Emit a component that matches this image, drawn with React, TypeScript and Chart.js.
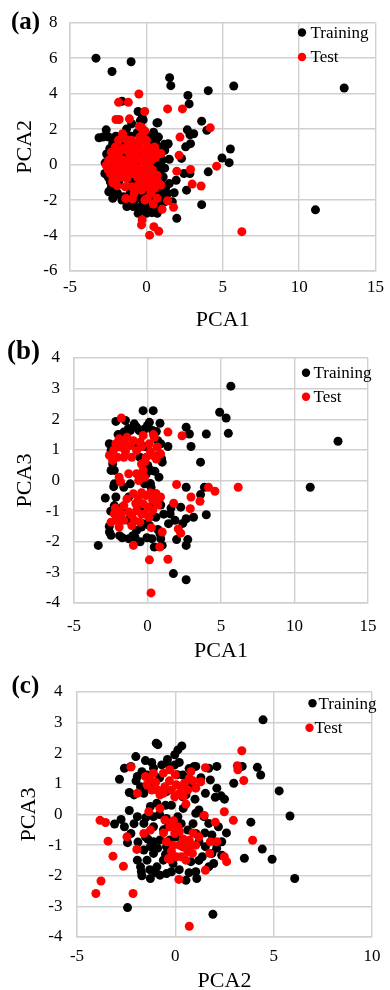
import React, { useEffect, useRef } from 'react';
import { Chart, registerables } from 'chart.js';

Chart.register(...registerables);

// ---------- Panel (a): PCA1 vs PCA2 ----------
const aTrainX = [-3.3, -2.25, -1.0, 1.52, 1.6, 2.72, 2.8, 4.05, 5.72, 12.95, 11.07, 3.62, 3.96, 2.68, 3.1, 2.85, 2.57, 2.89, 5.5, 4.95, 5.42, 4.05, 2.46, 2.85, 1.82, 2.63, 1.95, 3.62, 1.99, 0.75, 1.39, -0.54, -0.96, -0.21, -3.1, -2.63, -2.46, -2.85, -1.6, -0.39, 0.69, 0.47, 0.79, 1.43, -1.3, -0.28, -2.46, -2.14, -1.28, -0.32, 0.0, 0.36, 0.71, 1.03, 1.18, 1.28, 1.5, 0.96, 0.92, 0.54, 0.75, 0.32, 1.18, -2.46, -2.72, -2.36, -2.08, -1.82, -1.5, -1.07, -0.75, -0.54, -0.11, 0.21, 0.43, 0.64, 0.75, 0.32, -0.54, -0.86, -0.96, -1.39, -0.54, -0.11, 0.32, 0.54, -0.54, -0.96, -1.28, -1.82, -2.03, -1.6, -1.28, -0.54, 0.11, 0.43, 0.54, 0.86, 0.86, 1.07, 1.39, -2.2, -2.0, -0.2, 0.1, 2.3, 0.3, -0.2, 1.0, -0.3, 0.55, -1.1, -2.6, -2.7, -2.5, -2.3, -1.9, -1.6, -1.2, -0.9, -0.4, 0.2, 0.5, 0.9, 1.2, 1.0, 0.8, 1.1, 1.2, 1.0, 0.6, 0.2, 1.2, 0.6, 0.1, -0.6, -1.0, -1.6, -2.0, -2.2, -2.4, 0.4, -0.2, -0.7, 0.7, 1.5, 1.7];
const aTrainY = [6.0, 5.25, 5.8, 4.9, 4.45, 3.9, 3.42, 4.17, 4.43, 4.32, -2.55, 2.45, 1.93, 1.96, 1.74, 1.68, 1.0, 1.18, 0.88, 0.37, 0.11, -0.41, -0.5, -0.5, -1.59, -1.44, -0.88, -2.26, -3.03, 2.36, 1.14, 2.99, 2.3, 2.52, 1.51, 1.96, 1.55, 1.55, 3.57, 2.48, 2.35, 1.83, 1.55, 1.18, 2.0, 2.63, -1.53, -1.81, -2.37, -2.47, -2.75, -2.71, -2.75, -2.19, -1.81, -1.25, -1.07, -0.88, -0.04, 0.52, 0.99, 1.55, 1.14, -0.13, -0.5, -0.97, -1.25, -0.97, -1.81, -1.63, -2.0, -1.63, -1.25, -1.53, -1.81, -2.0, -2.28, -2.37, -2.75, -2.37, 0.8, 0.43, 0.24, -0.13, -0.5, -0.88, -0.69, -0.88, -0.41, -0.5, 0.43, 1.18, 1.55, 0.99, 1.18, 0.71, -0.13, 0.43, -0.5, -1.34, -1.63, -1.9, -1.7, -2.2, -2.0, 0.35, 1.0, 0.7, 0.2, -1.9, -1.6, -2.0, 0.6, 0.1, -0.7, -1.3, -1.6, -2.0, -1.9, -1.5, -2.4, -2.5, -2.5, -2.4, -2.1, -1.6, -1.2, -0.7, -0.2, 0.3, 0.1, 0.2, 0.8, 1.3, 1.6, 1.8, 1.6, 1.5, 1.6, 1.2, 0.9, -1.1, -1.6, -1.0, -0.4, 0.3, -2.1];
const aTestX = [-0.49, -1.82, -1.18, -0.11, 1.39, 2.36, -1.99, -1.78, -1.11, 4.18, 2.2, 2.14, 4.6, 2.89, 1.99, 3.0, 3.58, 1.39, 1.78, 1.03, 0.45, -0.28, -0.32, 0.21, 0.49, 0.81, 6.25, -2.2, -1.35, -0.92, 0.06, -2.46, -2.63, -2.25, -2.14, -2.36, -1.92, -2.03, -1.82, -1.5, -1.28, -1.07, -0.75, -0.54, -0.43, -0.32, -0.21, -0.64, -0.86, -0.43, -0.32, -0.11, 0.0, 0.21, 0.43, 0.75, 0.96, 0.54, 0.0, -0.32, -0.54, -0.96, -1.39, 0.11, 0.32, 0.21, -0.11, 0.96, 0.21, -0.96, -1.28, -1.82, -1.56, -0.96, 0.0, 0.54, -2.03, -1.7, -0.6, -0.2, 0.6, -1.2, -0.4, -2.3, -1.0, 0.3, -0.1, -0.45, -2.5, -2.1, -1.6, -1.3, -1.4, -1.7, -2.1, -1.1, -0.7, -0.6, -0.2, 0.1, 0.4, 0.7, 0.2, -0.3, -0.8, -1.6, -1.9, -0.4, 0.1, -0.3, -1.3, -2.2, -1.9, -0.8, 0.3, 0.7, -0.1, 0.7];
const aTestY = [3.98, 3.51, 3.51, 2.99, 3.14, 3.14, 2.54, 2.54, 2.58, 2.07, 1.55, 0.52, -0.09, -0.28, -0.37, -1.1, -1.21, -2.04, -2.41, -2.52, -2.22, -3.12, -3.4, -3.98, -3.5, -3.76, -3.78, -1.03, -1.91, -1.93, -1.91, 0.24, -0.04, 0.43, -0.13, -0.5, -0.32, 0.99, 0.62, 0.24, 0.8, 0.43, 0.62, 0.99, 1.55, 2.11, 1.83, 1.18, -0.04, -0.5, -0.88, -0.97, -0.5, -0.88, -1.07, -0.97, -1.16, -1.34, -1.25, -1.44, -1.16, -1.25, -1.25, 0.43, 0.24, 0.8, 0.62, 0.62, -0.13, -0.5, -0.79, 1.37, 1.74, 1.37, 1.37, 0.99, -0.88, 0.0, 0.3, 0.1, 0.4, 1.1, -0.2, 0.7, 0.1, -0.6, 1.9, 2.15, -0.3, 0.2, -0.3, 0.0, -0.6, -0.7, -0.6, -0.2, -0.3, -0.7, -0.3, -0.7, -0.3, -0.6, 0.5, 0.4, 0.9, 0.9, 0.4, 0.9, 1.0, 1.3, 1.4, -0.9, -1.2, -1.6, -1.6, -1.9, -2.0, 0.7];

// ---------- Panel (b): PCA1 vs PCA3 ----------
const bTrainX = [5.67, 4.91, 5.35, 5.5, 12.96, 11.07, 4.0, 3.61, 2.63, 2.85, 2.96, 1.39, 2.63, 3.87, 3.61, 4.0, 2.26, 3.13, 2.63, 1.54, 1.43, 1.87, 1.98, 2.74, 2.63, 1.76, 2.63, -3.35, -2.87, -2.59, -2.48, -1.72, -1.28, -0.04, 0.46, 1.0, 0.85, -0.3, 0.39, 0.13, 0.85, -1.5, -2.15, -1.61, -1.17, -0.57, 0.96, 0.24, 0.78, -2.26, -2.48, 0.24, 0.57, -0.41, -0.85, -2.48, -2.37, -2.26, -1.72, -0.74, -0.2, 0.35, -0.52, 0.02, -0.2, -1.17, -1.61, -1.28, -1.72, -2.15, -2.26, 0.13, -0.3, -0.74, 0.13, 0.57, 0.6, -1.9, -0.9, -0.1, 0.7, -2.0, -1.3, -0.5, 0.4, -2.6, -2.0, -1.3, -0.9, 0.0, 0.6, 0.9, 1.0, 0.5, -0.1, -0.6, 0.2, -2.3, -2.5, -1.9, -1.0, -0.5, 0.3, 0.7, 1.1, 0.9, -2.6, 1.6, 2.4, 0.9];
const bTrainY = [3.08, 2.23, 2.04, 1.54, 1.28, -0.22, 1.52, 0.6, 1.74, 1.52, 1.11, 1.11, -0.22, -0.22, -0.46, -1.12, -0.87, -1.2, -1.25, -1.09, -1.41, -1.3, -1.93, -1.93, -2.12, -3.04, -3.24, -2.12, -0.57, -1.68, -1.79, -1.87, -1.9, -1.87, -2.17, -2.12, -1.74, 2.28, 2.28, 1.9, 1.87, 1.96, 1.93, 1.58, 1.63, 1.63, 0.71, 0.33, 0.11, -0.11, 0.33, -0.22, -0.43, -1.52, -1.85, 0.98, 0.54, 0.33, 1.52, 1.74, 1.68, 1.63, 0.76, 0.49, -0.11, -0.11, -0.22, -0.54, -0.87, -0.54, -0.82, -1.2, -1.41, -1.63, -1.47, -1.2, 0.8, 1.2, 1.2, 1.1, 1.3, -1.3, -1.3, -0.9, -0.7, 1.2, 1.5, 1.7, 1.85, 1.8, 1.6, 1.2, 0.6, 0.3, 0.2, 0.2, -0.1, -0.2, -1.0, -1.8, -1.8, -2.0, -1.9, -1.6, -1.1, -0.8, -1.5, -0.9, -1.4, -1.9];
const bTestX = [-1.78, 1.39, 2.35, 6.17, 4.15, 4.59, 1.98, 2.96, 3.57, 1.78, 2.91, 2.09, 2.26, 1.0, 0.26, -0.96, 0.83, 0.13, 1.39, 0.24, -2.59, -2.37, -2.15, -1.83, -1.93, -1.39, -1.17, -0.74, -0.96, -0.3, 0.13, 0.46, 0.67, 0.89, 0.35, -0.09, -0.41, -0.3, -0.74, -1.28, -1.07, -1.61, -2.04, -1.93, -1.83, -2.26, -2.15, -2.48, -1.93, -1.61, -1.28, -1.07, -0.74, -0.96, -0.63, -0.3, -0.09, 0.02, 0.35, 0.57, 0.89, 0.35, -0.2, -0.52, -1.07, -1.61, -0.4, 0.4, -2.3, -1.6, -1.5, -0.5, 0.2, 0.6, -0.2, -2.2, -1.8, -1.4, -0.8, -0.4, 0.2, 0.7, 0.1, -0.4, -0.9, -2.0, -0.6, -0.2];
const bTestY = [2.04, 1.58, 1.46, -0.22, -0.22, -0.35, -0.13, -0.54, -0.68, -0.74, -0.92, -1.58, -1.72, -1.68, -1.54, -2.12, -2.17, -2.59, -2.57, -3.67, 0.82, 0.65, 1.2, 1.09, 1.36, 1.41, 1.14, 0.98, 1.3, 1.47, 1.2, 1.41, 1.09, 0.87, 0.82, 0.76, 0.54, 0.33, 0.22, 0.22, 0.76, 0.76, 0.76, 0.11, -0.05, -1.09, -1.3, -1.36, -1.52, -0.82, -1.03, -1.14, -0.98, -0.43, -0.6, -0.76, -0.49, -0.87, -0.65, -0.43, -0.54, -0.98, -1.09, -1.36, -1.47, -1.3, 1.1, 1.5, 1.0, 1.2, 0.95, 1.25, 0.95, 0.7, 0.6, -0.9, -1.1, -0.6, -0.75, -0.4, -0.4, -0.8, -1.2, -1.1, -1.3, -1.0, 0.0, 0.1];

// ---------- Panel (c): PCA2 vs PCA3 ----------
const cTrainX = [4.46, -0.97, -0.89, 0.33, 0.13, -0.03, -2.01, -1.52, -2.84, -2.59, 2.97, 3.4, 4.17, 4.34, 5.28, 5.83, 3.84, 4.42, 4.92, 3.51, 6.07, -2.43, 1.91, -2.34, -2.76, -3.09, -2.59, -2.26, -2.43, 2.36, 2.11, 2.33, 2.03, 1.53, 1.7, 2.11, 1.04, 1.78, 1.2, 1.45, 1.7, 2.19, 2.36, 1.95, 1.04, 1.09, 0.54, -1.27, -0.78, -0.45, -0.2, -1.73, -2.26, -1.93, -2.34, -2.1, -1.77, -1.44, -1.11, -0.69, -0.28, -0.03, 0.38, 0.63, 0.87, 0.38, 0.54, -0.45, -1.27, -1.6, 0.96, -1.27, -0.94, -1.11, -0.45, 0.13, -0.36, 1.04, -1.93, -1.6, -1.11, -1.6, -1.27, -1.11, -1.44, -0.94, -0.61, -0.45, -0.78, -0.28, 0.05, 0.38, 1.04, 1.2, 1.53, 1.37, 1.86, 1.7, 0.79, -0.12, -1.93, -1.77, -1.52, -1.11, 0.63, 1.86, -1.3, -0.8, 0.1, -0.6, -1.0, -0.3, -0.5, -2.0, -1.7, -1.2, -0.4, 0.2, 0.7, 1.3, 1.0, 0.4, -0.2, -0.8, -1.5, -2.1, -1.9, -1.4, -0.9, -0.5, 0.2, 0.7, 1.2, 1.5, 0.9, 0.3, 2.1, 2.6, 2.5, -1.7, -1.3];
const cTrainY = [3.09, 2.33, 2.28, 2.24, 2.11, 1.95, 1.89, 1.76, 1.15, 1.51, 1.02, 1.57, 1.54, 1.29, 0.77, -0.05, -0.25, -1.13, -1.46, -1.43, -2.09, -3.04, -3.26, 0.13, -0.16, -0.31, -0.4, -0.62, -0.92, -1.33, 0.86, 0.61, 0.56, 0.69, 1.51, 1.57, 1.57, 1.13, 0.15, -0.07, -0.29, -0.4, -0.89, -1.6, -1.87, -2.09, -2.15, -2.09, -1.98, -1.93, -1.87, -1.87, 1.57, 1.24, 0.72, 0.64, 0.91, 1.29, 1.51, 1.62, 1.57, 1.62, 1.29, 0.97, 0.91, 0.58, 0.64, 0.75, 0.86, 0.69, 1.57, 0.26, 0.37, -0.07, -0.13, -0.07, -0.4, 0.04, -0.07, -0.29, -0.4, -1.16, -1.05, -1.27, -1.49, -1.71, -1.49, -1.05, -0.83, -0.83, -0.73, -1.05, -0.62, -0.89, -1.05, -1.38, -1.27, -1.71, -1.54, -1.6, -1.49, -1.71, -0.73, -0.89, -0.51, -0.67, 1.0, 1.2, 1.3, -0.5, -1.9, -1.3, 0.3, 1.1, 1.4, 1.7, 1.8, 1.7, 1.5, 1.2, 0.5, 0.2, 0.3, 0.0, -0.1, -0.3, -0.9, -0.8, -1.1, -1.3, -1.8, -1.9, -1.5, -0.6, -0.3, -0.3, -1.1, -0.6, 0.5, -2.0, -1.8];
const cTestX = [3.38, 1.53, 3.15, 3.18, 3.48, -2.26, -1.93, -0.78, -1.35, 0.54, 2.49, 1.47, 2.95, 2.03, 3.93, -3.83, -3.55, -3.42, -3.17, -2.64, -3.78, -4.04, -2.15, -2.46, -1.96, 0.18, 0.71, 1.53, 2.49, 2.61, 1.75, 1.78, 2.11, -1.6, -1.27, -0.25, -1.52, -1.27, -1.11, -1.44, -1.19, -0.61, -0.53, -0.2, 0.05, 0.21, -0.03, 0.46, 0.71, 0.79, 0.63, 1.04, 1.29, -0.28, -0.78, -0.61, -0.53, -0.28, -0.03, 0.21, 0.71, 0.38, 0.63, 0.87, 0.54, 0.3, 0.05, -0.36, -0.12, -0.45, 1.04, 1.2, 0.13, -1.0, -0.9, -0.3, 0.3, 0.9, 0.4, 0.0, -0.1, 0.4, 0.9, -0.2, 0.8, 0.2, -0.6];
const cTestY = [2.08, 1.53, 1.59, 1.46, 1.11, 1.55, 0.69, 0.2, 0.09, 0.34, 0.09, -0.03, -0.19, -0.25, -0.84, -0.19, -0.26, -0.87, -1.36, -1.69, -2.17, -2.58, -2.58, -0.73, -1.14, -2.12, -3.65, -1.82, -1.38, -1.54, -1.27, -0.89, -0.89, -0.62, -0.51, -1.47, 1.24, 1.13, 1.35, 0.97, 0.8, 0.69, 0.91, 0.8, 0.97, 0.69, 0.58, 1.02, 1.18, 1.4, 0.8, 0.86, 1.07, 1.46, 0.64, 1.35, -0.18, -0.4, -0.62, -0.56, -0.84, -1.05, -1.22, -1.27, -1.49, -1.38, -1.38, -1.44, -1.0, -0.89, -1.0, -0.73, -0.4, 1.05, 0.8, 1.1, 0.9, 1.1, 0.6, 1.3, -0.2, -0.8, -0.6, -1.2, -1.0, -1.0, -0.6];

const seriesNames = ['Training', 'Test'];
const seriesColors = ['#000000', '#ff0000'];

const FONT = '"Liberation Serif", "Times New Roman", serif';
const GRID = '#d0d0d0';

type PanelCfg = {
  top: number; height: number;
  trainX: number[]; trainY: number[]; testX: number[]; testY: number[];
  xMin: number; xMax: number; xStep: number;
  yMin: number; yMax: number; yStep: number;
  xTitle: string; yTitle: string;
  padTop: number; yAxisW: number; xAxisH: number;
  xTickPad: number; yTickPad: number; xTitlePad: number; yTitlePad: number;
  label: string; labelX: number; labelY: number; labelSize: number;
  rows: { dotX: number; y: number; textX: number }[];
};

const panels: PanelCfg[] = [
  {
    top: 0, height: 333,
    trainX: aTrainX, trainY: aTrainY, testX: aTestX, testY: aTestY,
    xMin: -5, xMax: 15, xStep: 5, yMin: -6, yMax: 8, yStep: 2,
    xTitle: 'PCA1', yTitle: 'PCA2',
    padTop: 21, yAxisW: 70, xAxisH: 62,
    xTickPad: 6, yTickPad: 12.5, xTitlePad: 1.5, yTitlePad: 14.5,
    label: '(a)', labelX: 11, labelY: 29, labelSize: 25,
    rows: [{ dotX: 302, y: 32.5, textX: 310.5 }, { dotX: 302, y: 57, textX: 310.5 }],
  },
  {
    top: 333, height: 330,
    trainX: bTrainX, trainY: bTrainY, testX: bTestX, testY: bTestY,
    xMin: -5, xMax: 15, xStep: 5, yMin: -4, yMax: 4, yStep: 1,
    xTitle: 'PCA1', yTitle: 'PCA3',
    padTop: 25, yAxisW: 74, xAxisH: 60,
    xTickPad: 13.5, yTickPad: 14, xTitlePad: 0.3, yTitlePad: 14,
    label: '(b)', labelX: 7, labelY: 26, labelSize: 27,
    rows: [{ dotX: 306, y: 39.7, textX: 313.5 }, { dotX: 306, y: 63.7, textX: 313.5 }],
  },
  {
    top: 663, height: 327,
    trainX: cTrainX, trainY: cTrainY, testX: cTestX, testY: cTestY,
    xMin: -5, xMax: 10, xStep: 5, yMin: -4, yMax: 4, yStep: 1,
    xTitle: 'PCA2', yTitle: 'PCA3',
    padTop: 29, yAxisW: 77, xAxisH: 53,
    xTickPad: 9.5, yTickPad: 14.5, xTitlePad: -2.7, yTitlePad: 18,
    label: '(c)', labelX: 11.5, labelY: 30, labelSize: 25,
    rows: [{ dotX: 312.5, y: 40.3, textX: 318.5 }, { dotX: 309.5, y: 64.7, textX: 314.5 }],
  },
];

function makeDeco(cfg: PanelCfg) {
  return {
    id: 'panelDeco',
    afterDraw(chart: any) {
      const ctx = chart.ctx;
      ctx.save();
      ctx.fillStyle = '#000';
      ctx.textAlign = 'left';
      ctx.textBaseline = 'alphabetic';
      ctx.font = `bold ${cfg.labelSize}px ${FONT}`;
      ctx.fillText(cfg.label, cfg.labelX, cfg.labelY);
      ctx.font = `17px ${FONT}`;
      ctx.textBaseline = 'middle';
      chart.data.datasets.forEach((ds: any, i: number) => {
        const row = cfg.rows[i];
        ctx.beginPath();
        ctx.arc(row.dotX, row.y, 4.2, 0, Math.PI * 2);
        ctx.fillStyle = ds.backgroundColor;
        ctx.fill();
        ctx.fillStyle = '#000';
        ctx.fillText(ds.label, row.textX, row.y + 1);
      });
      ctx.restore();
    },
  };
}

function Panel({ cfg }: { cfg: PanelCfg }) {
  const ref = useRef<HTMLCanvasElement | null>(null);
  useEffect(() => {
    if (!ref.current) return;
    const toPts = (xs: number[], ys: number[]) => xs.map((x, i) => ({ x, y: ys[i] }));
    const chart = new Chart(ref.current, {
      type: 'scatter',
      data: {
        datasets: [
          {
            label: seriesNames[0],
            data: toPts(cfg.trainX, cfg.trainY),
            backgroundColor: seriesColors[0],
            borderWidth: 0,
            pointRadius: 4.5,
            pointHoverRadius: 4.5,
            order: 1,
          },
          {
            label: seriesNames[1],
            data: toPts(cfg.testX, cfg.testY),
            backgroundColor: seriesColors[1],
            borderWidth: 0,
            pointRadius: 4.5,
            pointHoverRadius: 4.5,
            order: 0,
          },
        ],
      },
      options: {
        responsive: false,
        animation: false,
        devicePixelRatio: 1,
        events: [],
        layout: { padding: { left: 0, top: cfg.padTop, right: 9, bottom: 0 } },
        plugins: { legend: { display: false }, tooltip: { enabled: false } },
        scales: {
          x: {
            type: 'linear',
            min: cfg.xMin,
            max: cfg.xMax,
            ticks: {
              stepSize: cfg.xStep,
              padding: cfg.xTickPad,
              color: '#000',
              font: { family: FONT, size: 17 },
              maxRotation: 0,
            },
            grid: { color: GRID, lineWidth: 1.4, drawTicks: false },
            border: { color: GRID, width: 1.4 },
            title: {
              display: true,
              text: cfg.xTitle,
              color: '#000',
              font: { family: FONT, size: 22, lineHeight: 1 },
              padding: { top: 0, bottom: cfg.xTitlePad },
            },
            afterFit: (s: any) => { s.height = cfg.xAxisH; },
          },
          y: {
            type: 'linear',
            min: cfg.yMin,
            max: cfg.yMax,
            ticks: {
              stepSize: cfg.yStep,
              padding: cfg.yTickPad,
              color: '#000',
              font: { family: FONT, size: 17 },
            },
            grid: { color: GRID, lineWidth: 1.4, drawTicks: false },
            border: { color: GRID, width: 1.4 },
            title: {
              display: true,
              text: cfg.yTitle,
              color: '#000',
              font: { family: FONT, size: 22, lineHeight: 1 },
              padding: { top: cfg.yTitlePad, bottom: 0 },
            },
            afterFit: (s: any) => { s.width = cfg.yAxisW; },
          },
        },
      } as any,
      plugins: [makeDeco(cfg)],
    });
    return () => chart.destroy();
  }, [cfg]);
  return (
    <canvas
      ref={ref}
      width={390}
      height={cfg.height}
      style={{ position: 'absolute', left: 0, top: cfg.top, width: 390, height: cfg.height }}
    />
  );
}

export default function App() {
  return (
    <div style={{ position: 'absolute', left: 0, top: 0, width: 390, height: 990, background: '#fff', overflow: 'hidden' }}>
      {panels.map((p) => (
        <Panel key={p.label} cfg={p} />
      ))}
    </div>
  );
}
